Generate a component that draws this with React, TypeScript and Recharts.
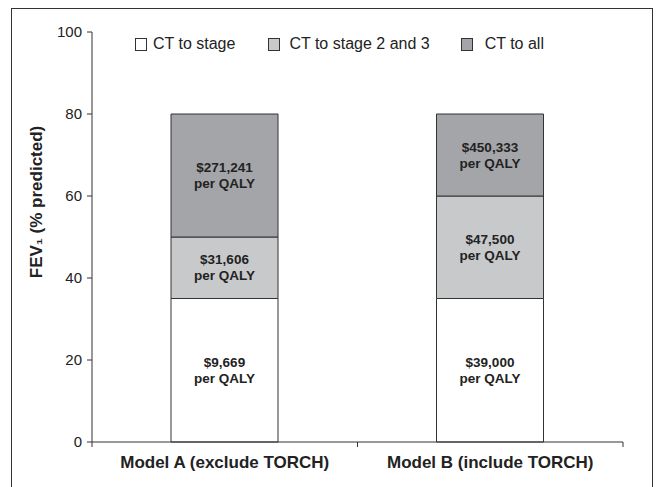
import React from "react";
import { BarChart, Bar, XAxis, YAxis, Legend, LabelList } from "recharts";

const categories = ["Model A (exclude TORCH)", "Model B (include TORCH)"];
const ctStage = [35, 35];
const ctStage23 = [15, 25];
const ctAll = [30, 20];
const costStage = ["$9,669", "$39,000"];
const costStage23 = ["$31,606", "$47,500"];
const costAll = ["$271,241", "$450,333"];
const yTicks = [0, 20, 40, 60, 80, 100];

const seriesNames = ["CT to stage", "CT to stage 2 and 3", "CT to all"];
const seriesColors = ["#ffffff", "#c8c9cb", "#a4a5a8"];

const data = categories.map((c, i) => ({
  name: c,
  stage: ctStage[i],
  stage23: ctStage23[i],
  all: ctAll[i],
  costStage: costStage[i],
  costStage23: costStage23[i],
  costAll: costAll[i],
}));

const FONT = '"Liberation Sans", Arial, Helvetica, sans-serif';
const INK = "#222";

const CostLabel = (props: any) => {
  const { x, y, width, height, value } = props;
  const cx = Number(x) + Number(width) / 2;
  const cy = Number(y) + Number(height) / 2;
  return (
    <g>
      <text x={cx} y={cy - 8} textAnchor="middle" dominantBaseline="central" fontFamily={FONT} fontSize={13.5} fontWeight="bold" fill={INK}>
        {value}
      </text>
      <text x={cx} y={cy + 8} textAnchor="middle" dominantBaseline="central" fontFamily={FONT} fontSize={13.5} fontWeight="bold" fill={INK}>
        per QALY
      </text>
    </g>
  );
};

const XTick = (props: any) => {
  const { x, y, payload } = props;
  const off = payload.offset || 0;
  return (
    <g>
      <line x1={x - off} x2={x - off} y1={y} y2={y + 5} stroke="#333" strokeWidth={1} />
      <line x1={x + off} x2={x + off} y1={y} y2={y + 5} stroke="#333" strokeWidth={1} />
      <text x={x} y={y + 26} textAnchor="middle" fontFamily={FONT} fontSize={17} fontWeight="bold" fill={INK}>
        {payload.value}
      </text>
    </g>
  );
};

const LegendContent = () => {
  const gaps = [0, 33, 31];
  const textGaps = [6, 9, 12];
  return (
    <div style={{ display: "flex", alignItems: "center", paddingLeft: 135, fontFamily: FONT, fontSize: 16, color: INK }}>
      {seriesNames.map((n, i) => (
        <div key={n} style={{ display: "flex", alignItems: "center", marginLeft: gaps[i] }}>
          <div style={{ width: 10, height: 11, border: "1px solid #333", background: seriesColors[i], boxSizing: "content-box" }} />
          <span style={{ marginLeft: textGaps[i] }}>{n}</span>
        </div>
      ))}
    </div>
  );
};

export default function App() {
  return (
    <div style={{ position: "absolute", left: 0, top: 0, width: 658, height: 487, overflow: "hidden", background: "#fff" }}>
      <div style={{ position: "absolute", left: 11, top: 8, width: 640, height: 490, borderLeft: "1px solid #333", borderTop: "1px solid #333", borderRight: "1px solid #333" }} />
      <div style={{ position: "absolute", left: 0, top: 0 }}>
        <BarChart width={658} height={487} data={data} margin={{ top: 32, right: 35, left: 0, bottom: 0 }}>
          <XAxis dataKey="name" type="category" height={45} axisLine={{ stroke: "#333" }} tickLine={false} tickSize={0} tickMargin={0} tick={<XTick />} interval={0} />
          <YAxis
            type="number"
            domain={[0, 100]}
            ticks={yTicks}
            width={92}
            axisLine={{ stroke: "#333" }}
            tickLine={{ stroke: "#333" }}
            tickSize={5}
            tickMargin={5}
            tick={{ fontFamily: FONT, fontSize: 15, fill: INK }}
            label={{
              value: "FEV₁ (% predicted)",
              angle: -90,
              position: "insideLeft",
              dx: 31,
              dy: -35,
              style: { fontFamily: FONT, fontSize: 17, fontWeight: "bold", fill: INK, textAnchor: "middle" },
            }}
          />
          <Legend
            layout="horizontal"
            verticalAlign="middle"
            align="center"
            content={<LegendContent />}
            wrapperStyle={{ position: "absolute", top: 35, left: 0, width: 658 }}
          />
          <Bar dataKey="stage" name={seriesNames[0]} stackId="a" fill={seriesColors[0]} stroke="#333" strokeWidth={1} barSize={107} isAnimationActive={false}>
            <LabelList dataKey="costStage" content={<CostLabel />} />
          </Bar>
          <Bar dataKey="stage23" name={seriesNames[1]} stackId="a" fill={seriesColors[1]} stroke="#333" strokeWidth={1} barSize={107} isAnimationActive={false}>
            <LabelList dataKey="costStage23" content={<CostLabel />} />
          </Bar>
          <Bar dataKey="all" name={seriesNames[2]} stackId="a" fill={seriesColors[2]} stroke="#333" strokeWidth={1} barSize={107} isAnimationActive={false}>
            <LabelList dataKey="costAll" content={<CostLabel />} />
          </Bar>
        </BarChart>
      </div>
    </div>
  );
}
